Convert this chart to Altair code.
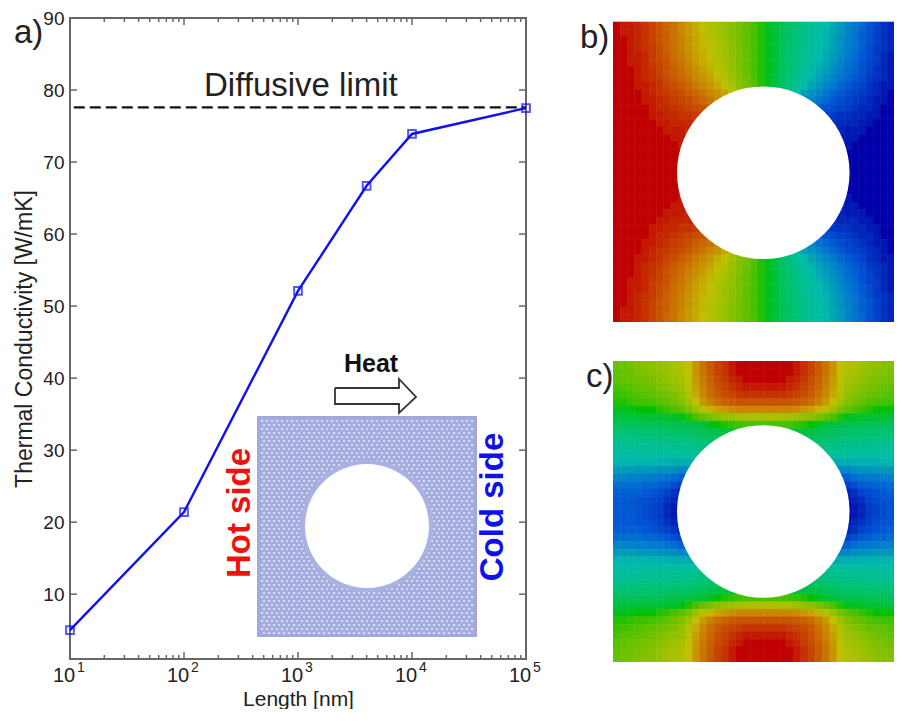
import altair as alt
import pandas as pd

# ---- panel a) values ----
lengths = [10, 100, 1000, 4000, 10000, 100000]
conductivity = [5.0, 21.4, 52.1, 66.7, 73.9, 77.5]
limit_x = [10.8, 100000]
limit_y = [77.6, 77.6]
x_major = [10, 100, 1000, 10000, 100000]
x_minor = [d * m for d in [10, 100, 1000, 10000] for m in range(2, 10)]
y_major = [10, 20, 30, 40, 50, 60, 70, 80]
exponents = ["1", "2", "3", "4", "5"]

# ---- panel b) field, top half, left half (rest follows from the symmetry of the picture) ----
b_rows = [
 [100,99,99,98,97,95,93,90,88,85,82,79,75,72,69,66,63,60,57,54,51],
 [100,99,99,98,97,95,93,91,88,85,82,79,76,72,69,66,63,60,57,54,51],
 [100,100,99,98,97,95,93,91,88,86,83,80,76,73,70,67,63,60,57,54,51],
 [100,100,99,98,97,96,94,91,89,86,83,80,77,74,71,67,64,61,57,54,51],
 [100,100,99,99,98,96,94,92,89,87,84,81,78,75,71,68,64,61,58,54,51],
 [100,100,99,99,98,96,95,93,90,88,85,82,79,76,72,69,65,61,58,54,51],
 [100,100,100,99,98,97,95,93,91,89,86,84,81,78,74,70,66,62,58,54,51],
 [100,100,100,99,98,97,96,94,92,90,88,85,83,80,76,72,67,63,59,55,51],
 [100,100,100,99,99,98,97,95,94,92,90,87,85,82,79,75,69,64,60,55,51],
 [100,100,100,100,99,98,97,96,95,94,92,90,88,85,83,80,74,68,61,55,51],
 [100,100,100,100,99,99,98,97,96,95,94,92,90,88,85,84,80,70,60,55,50],
 [100,100,100,100,100,99,98,98,97,96,95,94,93,92,90,88,85,80,70,60,50],
 [100,100,100,100,100,99,99,98,98,97,97,96,95,94,92,90,85,80,70,60,50],
 [100,100,100,100,100,100,99,99,98,98,98,97,97,97,97,97,97,97,97,97,97],
 [100,100,100,100,100,100,100,99,99,99,98,98,98,98,98,98,98,98,98,98,98],
 [100,100,100,100,100,100,100,100,99,99,99,99,99,99,99,99,99,99,99,99,99],
 [100,100,100,100,100,100,100,100,100,99,99,99,99,99,99,99,99,99,99,99,99],
 [100,100,100,100,100,100,100,100,100,100,100,100,100,100,100,100,100,100,100,100,100],
 [100,100,100,100,100,100,100,100,100,100,100,100,100,100,100,100,100,100,100,100,100],
 [100,100,100,100,100,100,100,100,100,100,100,100,100,100,100,100,100,100,100,100,100],
]

# ---- panel c) field ----
c_rows = [
 [58,59,60,62,63,64,66,68,70,72,75,83,88,92,95,97,99,100,100,100,100],
 [57,58,59,61,62,63,65,67,69,71,75,83,88,92,95,97,99,100,100,100,100],
 [56,57,58,59,60,61,63,65,67,69,74,82,87,91,94,96,98,99,100,100,100],
 [54,55,56,57,58,59,61,63,65,67,73,81,86,90,93,95,97,98,99,99,99],
 [52,53,54,55,56,57,58,60,62,65,71,79,85,89,92,94,95,96,97,97,97],
 [51,51,52,53,53,54,55,57,59,62,68,75,82,86,89,91,92,93,93,93,93],
 [49,49,49,50,50,50,51,52,54,56,60,66,72,77,80,82,84,85,85,85,85],
 [46,46,46,46,47,47,47,48,48,49,51,54,57,60,63,65,67,69,70,70,70],
 [42,42,42,42,43,43,43,44,44,44,45,46,47,49,50,51,52,53,54,54,54],
 [38,38,38,39,39,39,39,40,40,40,41,42,43,44,45,46,46,46,46,46,46],
 [34,34,34,35,35,35,36,36,36,37,37,38,39,40,41,41,41,41,41,41,41],
 [31,31,31,31,31,32,32,32,33,33,33,34,35,35,35,35,35,35,35,35,35],
 [27,27,27,27,28,28,28,28,28,29,29,29,30,30,30,30,30,30,30,30,30],
 [24,24,24,24,24,23,23,23,22,22,22,22,22,22,22,22,22,22,22,22,22],
 [19,19,19,18,18,18,17,17,16,15,15,15,15,15,15,15,15,15,15,15,15],
 [15,15,14,14,14,13,13,12,11,9,8,8,8,8,8,8,8,8,8,8,8],
 [11,11,11,11,10,10,9,8,6,5,4,4,4,4,4,4,4,4,4,4,4],
 [9,9,9,9,8,7,6,5,3,2,1,1,1,1,1,1,1,1,1,1,1],
 [8,8,8,7,7,6,5,3,2,1,0,0,0,0,0,0,0,0,0,0,0],
 [8,8,8,7,6,5,4,2,1,0,0,0,0,0,0,0,0,0,0,0,0],
]

FONT = "Liberation Sans"
INK = "#222222"
FRAME = "#666666"
BLUE = "#1010f0"
W, H = 456, 641
HEAT_W = 281  # the page margin leaves room for this much of the 289 px wide field
CELL_W = 289 / 40


def field(rows, mirror):
    recs = []
    for j, row in enumerate(rows + rows[::-1]):
        full = row + [mirror(u) for u in row[::-1][:19]]
        for i, v in enumerate(full):
            recs.append({"c": i, "c2": i + 1, "r": j, "r2": j + 1, "v": v})
    return pd.DataFrame(recs)


COLORS = alt.Scale(domain=[0, 25, 50, 75, 100],
                   range=["#0000aa", "#00bbaa", "#00c000", "#c0c000", "#c00000"])


def heat(rows, mirror, height, y_dom, hole_xy, label, lx, ly):
    df = field(rows, mirror)
    xs = alt.Scale(domain=[0, HEAT_W / CELL_W], nice=False, zero=False)
    ys = alt.Scale(domain=y_dom, nice=False, zero=False, reverse=True)
    cells = alt.Chart(df).mark_rect(strokeWidth=0.6, clip=True).encode(
        x=alt.X("c:Q", scale=xs, axis=None),
        x2="c2:Q",
        y=alt.Y("r:Q", scale=ys, axis=None),
        y2="r2:Q",
        color=alt.Color("v:Q", scale=COLORS, legend=None),
        stroke=alt.Color("v:Q", scale=COLORS, legend=None),
    )
    hole = alt.Chart(pd.DataFrame({"x": [hole_xy[0]], "y": [hole_xy[1]]})).mark_circle(
        color="white", opacity=1, size=(2 * 86.3) ** 2
    ).encode(x=alt.X("x:Q", scale=xs, axis=None), y=alt.Y("y:Q", scale=ys, axis=None))
    text = alt.Chart(pd.DataFrame({"t": [label]})).mark_text(
        font=FONT, fontSize=33, align="left", baseline="middle", color=INK
    ).encode(text="t:N", x=alt.value(lx), y=alt.value(ly))
    return alt.layer(cells, hole, text).properties(width=HEAT_W, height=height)


# ---- panel a) ----
xs = alt.Scale(type="log", domain=[10, 100000], nice=False)
ys = alt.Scale(domain=[1, 90], nice=False, zero=False)
xnone = alt.X("x:Q", scale=xs, axis=None)
ynone = alt.Y("y:Q", scale=ys, axis=None)

df_line = pd.DataFrame({"x": lengths, "y": conductivity})

base_axes = alt.Chart(df_line).mark_line(color=BLUE, strokeWidth=2.4, clip=False).encode(
    x=alt.X("x:Q", scale=xs, title="Length [nm]",
            axis=alt.Axis(values=x_major, labels=False, grid=False, ticks=False, domain=False,
                          titleFont=FONT, titleFontSize=21, titleFontWeight="normal",
                          titleColor=INK, titlePadding=29)),
    y=alt.Y("y:Q", scale=ys, title="Thermal Conductivity [W/mK]",
            axis=alt.Axis(values=y_major + [90], grid=False, ticks=False, domain=False,
                          labelFont=FONT, labelFontSize=19, labelColor=INK, labelPadding=6,
                          labelOverlap=False, titleFont=FONT, titleFontSize=23, titleFontWeight="normal",
                          titleColor=INK, titlePadding=6)),
)
points = alt.Chart(df_line).mark_point(shape="square", size=60, filled=False, color=BLUE,
                                       strokeWidth=2, clip=False).encode(x=xnone, y=ynone)
limit = alt.Chart(pd.DataFrame({"x": limit_x, "y": limit_y})).mark_line(
    color="#111111", strokeWidth=2.2, strokeDash=[11, 5]).encode(x=xnone, y=ynone)


def xticks(vals, y1, y2):
    return alt.Chart(pd.DataFrame({"x": vals})).mark_rule(color=FRAME, strokeWidth=1.5).encode(
        x=xnone, y=alt.value(y1), y2=alt.value(y2))


def yticks(vals, x1, x2):
    return alt.Chart(pd.DataFrame({"y": vals})).mark_rule(color=FRAME, strokeWidth=1.5).encode(
        y=ynone, x=alt.value(x1), x2=alt.value(x2))


tick_layers = [
    xticks(x_major, H, H - 7), xticks(x_minor, H, H - 4),
    xticks(x_major, 0, 7), xticks(x_minor, 0, 4),
    yticks(y_major, 0, 7), yticks(y_major, W, W - 7),
]

ten_text = alt.Chart(pd.DataFrame({"x": x_major, "e": ["10"] * 5})).mark_text(
    font=FONT, fontSize=20, color=INK, baseline="middle", align="center", dx=-6
).encode(x=xnone, y=alt.value(658), text="e:N")
exp_text = alt.Chart(pd.DataFrame({"x": x_major, "e": exponents})).mark_text(
    font=FONT, fontSize=14, color=INK, baseline="middle", align="center", dx=11
).encode(x=xnone, y=alt.value(650), text="e:N")


def note(txt, x, y, size, color=INK, weight="normal", angle=0, align="left"):
    return alt.Chart(pd.DataFrame({"t": [txt]})).mark_text(
        font=FONT, fontSize=size, color=color, fontWeight=weight, angle=angle,
        align=align, baseline="middle"
    ).encode(text="t:N", x=alt.value(x), y=alt.value(y))


# inset: plain plot pixels
px = alt.X("x:Q", scale=alt.Scale(domain=[0, W], range=[0, W]), axis=None)
py = alt.Y("y:Q", scale=alt.Scale(domain=[0, H], range=[0, H]), axis=None)
px2 = alt.X2("x2:Q")
py2 = alt.Y2("y2:Q")

box_x, box_y, box_x2, box_y2 = 188, 399, 406, 618
hole_cx, hole_cy = 297, 508

mesh_pts = []
for n, yy in enumerate(range(box_y + 4, box_y2 - 2, 4)):
    for xx in range(box_x + 4 + (n % 2) * 2, box_x2 - 2, 5):
        mesh_pts.append({"x": xx, "y": yy})
df_mesh = pd.DataFrame(mesh_pts)

inset_bg = alt.Chart(pd.DataFrame({"x": [box_x], "x2": [box_x2], "y": [box_y], "y2": [box_y2]})).mark_rect(
    color="#a3aae0", stroke="#a0a7dc", strokeWidth=2).encode(x=px, x2=px2, y=py, y2=py2)
inset_dots = alt.Chart(df_mesh).mark_circle(color="#d8dbf4", opacity=0.95, size=7).encode(x=px, y=py)
ring = alt.Chart(pd.DataFrame({"x": [hole_cx], "y": [hole_cy]})).mark_circle(
    color="#abb1e2", opacity=1, size=(2 * 66) ** 2).encode(x=px, y=py)
white = alt.Chart(pd.DataFrame({"x": [hole_cx], "y": [hole_cy]})).mark_circle(
    color="white", opacity=1, size=(2 * 62) ** 2).encode(x=px, y=py)

arrow_x = [265, 329, 329, 346, 329, 329, 265, 265]
arrow_y = [370, 370, 361, 379, 395, 386, 386, 370]
arrow = alt.Chart(pd.DataFrame({"x": arrow_x, "y": arrow_y, "i": range(8)})).mark_line(
    color="#333333", strokeWidth=1.8).encode(x=px, y=py, order="i:Q")

panel_a = alt.layer(
    limit, base_axes, points, *tick_layers, ten_text, exp_text,
    note("a)", -56, 15, 33),
    note("Diffusive limit", 134, 68, 33),
    inset_bg, inset_dots, ring, white, arrow,
    note("Heat", 274, 346, 25, color="#111111", weight="bold"),
    note("Hot side", 170, 495, 33, color="#ee1111", weight="bold", angle=270, align="center"),
    note("Cold side", 423, 489, 33, color="#1010ee", weight="bold", angle=270, align="center"),
).resolve_scale(x="independent", y="independent").properties(
    width=W, height=H, view=alt.ViewBackground(stroke=FRAME, strokeWidth=2))

panel_b = heat(b_rows, lambda v: 100 - v, 304, [-4 / 7.5, 40], (20.8, 20.1), "b)", -33, 20)
panel_c = heat(c_rows, lambda v: v, 301, [0, 40], (20.8, 20.0), "c)", -27, 16)

right = alt.vconcat(panel_b, panel_c, spacing=39, bounds="flush")
chart = alt.hconcat(panel_a, right, spacing=87, bounds="flush").properties(
    padding={"left": 4, "top": 0, "right": 0, "bottom": -1},
    background="white",
).configure_view(strokeWidth=0)

chart.save("out.html", embed_options={"renderer": "svg", "actions": False})
